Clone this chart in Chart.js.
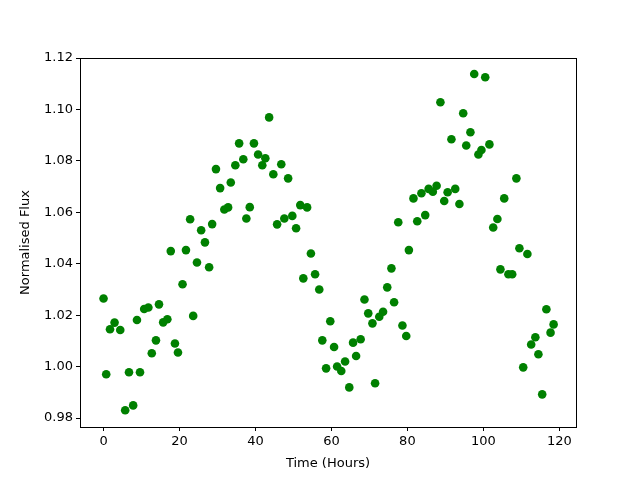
<!DOCTYPE html>
<html>
<head>
<meta charset="utf-8">
<script src="https://cdn.jsdelivr.net/npm/chart.js@4/dist/chart.umd.min.js"></script>
<style>
  html, body { margin: 0; padding: 0; background: #ffffff; }
  #wrap { width: 640px; height: 480px; }
</style>
</head>
<body>
<div id="wrap"><canvas id="c" width="640" height="480"></canvas></div>
<script>
const timeHours = [
  0.0, 0.7, 1.7, 2.9, 4.4, 5.7, 6.7, 7.8, 8.8, 9.6,
  10.7, 11.8, 12.7, 13.8, 14.6, 15.7, 16.8, 17.7, 18.8, 19.6,
  20.8, 21.7, 22.8, 23.6, 24.6, 25.7, 26.7, 27.8, 28.6, 29.6,
  30.7, 31.8, 32.8, 33.5, 34.7, 35.7, 36.8, 37.6, 38.5, 39.6,
  40.7, 41.8, 42.6, 43.6, 44.7, 45.7, 46.8, 47.6, 48.6, 49.7,
  50.7, 51.8, 52.6, 53.6, 54.6, 55.7, 56.8, 57.6, 58.6, 59.7,
  60.7, 61.5, 62.6, 63.6, 64.7, 65.7, 66.5, 67.7, 68.7, 69.7,
  70.8, 71.5, 72.6, 73.6, 74.7, 75.8, 76.5, 77.6, 78.7, 79.7,
  80.4, 81.6, 82.6, 83.7, 84.7, 85.6, 86.7, 87.7, 88.7, 89.7,
  90.6, 91.6, 92.6, 93.7, 94.7, 95.5, 96.6, 97.6, 98.7, 99.5,
  100.5, 101.6, 102.6, 103.7, 104.5, 105.5, 106.6, 107.6, 108.7, 109.5,
  110.5, 111.6, 112.6, 113.7, 114.5, 115.5, 116.6, 117.7, 118.5
];
const normalisedFlux = [
  1.0265, 0.9970, 1.0145, 1.0171, 1.0142, 0.9830, 0.9978, 0.9849, 1.0181, 0.9978,
  1.0224, 1.0230, 1.0052, 1.0102, 1.0242, 1.0172, 1.0184, 1.0449, 1.0090, 1.0055,
  1.0320, 1.0453, 1.0573, 1.0197, 1.0405, 1.0530, 1.0483, 1.0386, 1.0554, 1.0768,
  1.0694, 1.0611, 1.0619, 1.0716, 1.0783, 1.0868, 1.0806, 1.0576, 1.0620, 1.0868,
  1.0825, 1.0783, 1.0810, 1.0969, 1.0748, 1.0553, 1.0787, 1.0576, 1.0732, 1.0586,
  1.0538, 1.0628, 1.0343, 1.0619, 1.0440, 1.0359, 1.0300, 1.0102, 0.9993, 1.0176,
  1.0076, 1.0000, 0.9983, 1.0020, 0.9919, 1.0093, 1.0041, 1.0106, 1.0261, 1.0207,
  1.0168, 0.9935, 1.0194, 1.0213, 1.0308, 1.0382, 1.0250, 1.0561, 1.0160, 1.0119,
  1.0453, 1.0654, 1.0565, 1.0674, 1.0589, 1.0691, 1.0680, 1.0703, 1.1028, 1.0644,
  1.0678, 1.0884, 1.0691, 1.0632, 1.0985, 1.0860, 1.0911, 1.1138, 1.0825, 1.0842,
  1.1125, 1.0864, 1.0541, 1.0574, 1.0378, 1.0654, 1.0359, 1.0359, 1.0732, 1.0460,
  0.9997, 1.0438, 1.0086, 1.0114, 1.0048, 0.9892, 1.0223, 1.0132, 1.0164
];
const xTickValues = [0, 20, 40, 60, 80, 100, 120];
const yTickValues = [0.98, 1.00, 1.02, 1.04, 1.06, 1.08, 1.10, 1.12];
const xAxisLabel = 'Time (Hours)';
const yAxisLabel = 'Normalised Flux';

const points = timeHours.map((t, i) => ({ x: t, y: normalisedFlux[i] }));

const frame = {
  id: 'frame',
  afterDatasetsDraw(chart) {
    const a = chart.chartArea, ctx = chart.ctx;
    ctx.save();
    ctx.strokeStyle = '#000';
    ctx.lineWidth = 1;
    ctx.strokeRect(Math.round(a.left) + 0.5, Math.round(a.top) + 0.5,
                   Math.round(a.right - a.left), Math.round(a.bottom - a.top));
    ctx.restore();
  }
};

const font = { family: 'DejaVu Sans', size: 13 };

new Chart(document.getElementById('c'), {
  type: 'scatter',
  data: {
    datasets: [{
      data: points,
      backgroundColor: '#008000',
      borderWidth: 0,
      pointRadius: 4.3,
      pointHoverRadius: 4.3
    }]
  },
  options: {
    responsive: false,
    animation: false,
    events: [],
    layout: { padding: { top: 58, right: 64, left: 0, bottom: 0 } },
    plugins: { legend: { display: false }, tooltip: { enabled: false } },
    scales: {
      x: {
        type: 'linear',
        min: -6.2,
        max: 124.4,
        afterFit(s) { s.height = 53; },
        afterBuildTicks(s) { s.ticks = xTickValues.map(v => ({ value: v })); },
        ticks: { color: '#000', font, padding: 3, maxRotation: 0, includeBounds: false,
                 callback: v => String(v) },
        grid: { drawOnChartArea: false, drawTicks: true, tickLength: 4, color: '#000' },
        border: { display: true, color: '#000' },
        title: { display: true, text: xAxisLabel, color: '#000', font, padding: { top: 0, bottom: 9 } }
      },
      y: {
        type: 'linear',
        min: 0.9765,
        max: 1.12,
        afterFit(s) { s.width = 80; },
        afterBuildTicks(s) { s.ticks = yTickValues.map(v => ({ value: v })); },
        ticks: { color: '#000', font, padding: 3, includeBounds: false,
                 callback: v => Number(v).toFixed(2) },
        grid: { drawOnChartArea: false, drawTicks: true, tickLength: 4, color: '#000' },
        border: { display: true, color: '#000' },
        title: { display: true, text: yAxisLabel, color: '#000', font, padding: { top: 18, bottom: 0 } }
      }
    }
  },
  plugins: [frame]
});
</script>
</body>
</html>
